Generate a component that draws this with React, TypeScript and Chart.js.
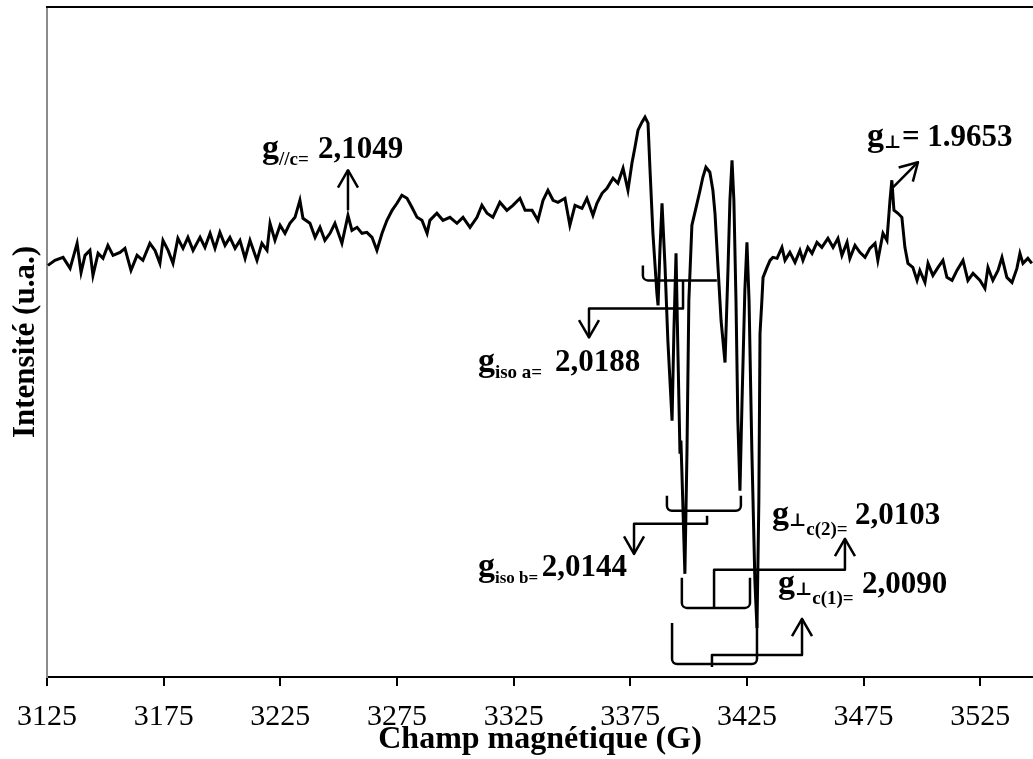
import React, { useEffect, useRef } from 'react';
import { Chart, registerables } from 'chart.js';

Chart.register(...registerables);

// ---- Data ----
const fieldG = [
  3125.4, 3128.4, 3131.9, 3134.9, 3137.9, 3139.6, 3141.3, 3143.4, 3144.7, 3146.9,
  3149.0, 3151.1, 3153.3, 3156.3, 3158.4, 3161.0, 3163.6, 3166.1, 3169.1, 3171.3,
  3173.4, 3174.7, 3176.9, 3179.0, 3181.1, 3183.3, 3185.4, 3187.6, 3190.6, 3192.7,
  3194.9, 3197.0, 3199.1, 3201.3, 3203.4, 3205.6, 3207.7, 3209.9, 3212.0, 3215.0,
  3217.1, 3219.3, 3220.6, 3222.7, 3224.9, 3227.0, 3229.1, 3231.3, 3233.4, 3234.7,
  3237.7, 3239.9, 3242.0, 3244.1, 3246.3, 3248.4, 3251.4, 3254.0, 3255.7, 3257.9,
  3260.0, 3262.1, 3264.3, 3266.4, 3268.6, 3270.7, 3272.9, 3275.0, 3277.1, 3279.3,
  3281.4, 3283.6, 3285.7, 3287.9, 3289.1, 3292.1, 3294.7, 3297.7, 3300.7, 3303.3,
  3306.3, 3309.3, 3311.4, 3313.6, 3316.1, 3319.1, 3322.1, 3324.7, 3327.7, 3329.9,
  3332.9, 3335.4, 3337.6, 3339.7, 3341.9, 3344.0, 3347.0, 3349.1, 3351.3, 3354.3,
  3356.4, 3359.0, 3360.7, 3362.9, 3365.0, 3367.6, 3369.7, 3371.9, 3374.0, 3375.7,
  3377.0, 3378.3, 3380.0, 3381.3, 3382.6, 3383.4, 3384.7, 3386.4, 3386.9, 3387.7,
  3388.6, 3389.9, 3391.1, 3392.9, 3393.7, 3394.6, 3395.4, 3396.3, 3396.7, 3397.1,
  3398.4, 3399.3, 3400.1, 3401.4, 3403.6, 3404.9, 3406.1, 3407.4, 3409.1, 3410.4,
  3411.3, 3412.6, 3413.9, 3415.6, 3416.9, 3417.7, 3418.6, 3419.4, 3420.3, 3421.1,
  3422.0, 3422.9, 3424.1, 3425.0, 3425.9, 3427.1, 3428.4, 3429.3, 3430.1, 3430.6,
  3431.4, 3431.9, 3433.6, 3434.9, 3436.1, 3437.9, 3440.0, 3441.3, 3443.4, 3445.6,
  3447.7, 3449.0, 3451.1, 3452.9, 3455.0, 3457.1, 3459.7, 3461.9, 3464.0, 3465.7,
  3467.9, 3469.1, 3471.3, 3473.4, 3475.6, 3477.7, 3479.9, 3481.1, 3483.3, 3485.0,
  3486.3, 3487.1, 3488.0, 3489.7, 3491.4, 3492.7, 3494.0, 3496.1, 3497.9, 3499.1,
  3501.3, 3502.6, 3504.7, 3506.9, 3509.0, 3510.7, 3512.9, 3515.0, 3517.6, 3519.7,
  3521.9, 3524.9, 3527.0, 3528.3, 3530.4, 3532.6, 3534.3, 3536.4, 3538.6, 3540.7,
  3542.0, 3543.3, 3545.4, 3547.1,
];

const intensity = [
  411, 416, 419, 408, 433, 404, 421, 426, 401, 423,
  418, 431, 421, 424, 428, 406, 421, 416, 433, 426,
  413, 436, 426, 413, 438, 428, 439, 426, 439, 429,
  443, 428, 444, 431, 439, 428, 436, 418, 436, 416,
  433, 426, 453, 436, 451, 443, 453, 459, 476, 458,
  453, 439, 449, 436, 443, 453, 433, 461, 446, 449,
  443, 444, 439, 426, 443, 456, 466, 473, 481, 478,
  469, 459, 456, 443, 456, 463, 456, 459, 453, 459,
  449, 459, 471, 463, 459, 474, 466, 471, 478, 466,
  466, 456, 476, 486, 476, 474, 478, 451, 471, 468,
  478, 461, 473, 483, 488, 498, 493, 508, 486, 513,
  529, 546, 554, 559, 553, 509, 443, 383, 371, 426,
  473, 409, 336, 256, 346, 423, 326, 223, 236, 206,
  103, 226, 376, 451, 473, 486, 499, 509, 504, 486,
  463, 409, 356, 314, 409, 476, 516, 476, 376, 256,
  186, 276, 386, 434, 376, 226, 96, 49, 176, 343,
  376, 399, 409, 416, 419, 418, 429, 416, 424, 414,
  426, 416, 429, 423, 434, 429, 438, 429, 438, 421,
  434, 418, 431, 424, 419, 428, 433, 416, 443, 436,
  476, 496, 466, 463, 459, 429, 413, 409, 396, 406,
  394, 413, 401, 409, 416, 399, 396, 406, 416, 396,
  403, 396, 388, 409, 396, 406, 419, 399, 394, 408,
  423, 413, 418, 413,
];

const tickValues = [3125, 3175, 3225, 3275, 3325, 3375, 3425, 3475, 3525];
const xRange = [3125, 3547.6];
const yRange = [0, 669];

const xTitle = 'Champ magnétique (G)';
const yTitle = 'Intensité (u.a.)';

// Bracket outlines (field G, intensity)
const brackets = [
  [[3380.4, 411], [3380.4, 396], [3412.1, 396]],
  [[3390.7, 181], [3390.7, 166], [3422.4, 166], [3422.4, 181]],
  [[3397.1, 99], [3397.1, 69], [3426.3, 69], [3426.3, 99]],
  [[3392.9, 54], [3392.9, 13], [3429.3, 13], [3429.3, 54]],
];

// Leader lines ending with an arrow head (field G, intensity)
const leaders = [
  [[3397.6, 396], [3397.6, 368], [3357.3, 368], [3357.3, 339]],
  [[3407.9, 161], [3407.9, 153], [3376.6, 153], [3376.6, 123]],
  [[3410.9, 69], [3410.9, 107], [3467.0, 107], [3467.0, 138]],
  [[3410.0, 10], [3410.0, 22], [3448.6, 22], [3448.6, 58]],
  [[3254.0, 466], [3254.0, 506]],
  [[3487.6, 489], [3498.3, 514]],
];

// Labels: anchor of "g" (field, intensity) and field where the value starts
const labelAnchors = [
  [3217.1, 518, 3241.1],
  [3476.4, 530, 3491.4],
  [3309.7, 306, 3342.7],
  [3309.7, 101, 3337.1],
  [3435.7, 153, 3471.3],
  [3438.3, 84, 3474.3],
];
const labelSubs = [
  ['//c='],
  ['⊥'],
  ['iso a='],
  ['iso b='],
  ['⊥', 'c(2)='],
  ['⊥', 'c(1)='],
];
const labelValues = ['2,1049', '= 1.9653', '2,0188', '2,0144', '2,0103', '2,0090'];

const SERIF = "'Liberation Serif', 'Times New Roman', 'DejaVu Serif', serif";
const SUB_SIZES = [19, 18, 19, 17, 19, 19];

const annotationPlugin = {
  id: 'eprAnnotations',
  afterDraw(chart: any) {
    const { ctx, chartArea } = chart;
    const xs = chart.scales.x;
    const ys = chart.scales.y;
    const P = (p: number[]) => [xs.getPixelForValue(p[0]), ys.getPixelForValue(p[1])];
    ctx.save();
    ctx.strokeStyle = '#000';
    ctx.fillStyle = '#000';

    // top frame line
    ctx.lineWidth = 2;
    ctx.beginPath();
    ctx.moveTo(chartArea.left - 1, chartArea.top);
    ctx.lineTo(chartArea.right, chartArea.top);
    ctx.stroke();

    ctx.lineWidth = 2.5;
    ctx.lineJoin = 'round';
    ctx.lineCap = 'butt';

    // brackets with rounded corners
    for (const b of brackets) {
      const pts = b.map(P);
      ctx.beginPath();
      ctx.moveTo(pts[0][0], pts[0][1]);
      for (let i = 1; i < pts.length - 1; i++) {
        ctx.arcTo(pts[i][0], pts[i][1], pts[i + 1][0], pts[i + 1][1], 5);
      }
      const last = pts[pts.length - 1];
      ctx.lineTo(last[0], last[1]);
      ctx.stroke();
    }

    // leader lines with open arrow heads
    for (const l of leaders) {
      const pts = l.map(P);
      ctx.beginPath();
      ctx.moveTo(pts[0][0], pts[0][1]);
      for (let i = 1; i < pts.length; i++) ctx.lineTo(pts[i][0], pts[i][1]);
      ctx.stroke();
      const tip = pts[pts.length - 1];
      const prev = pts[pts.length - 2];
      const a = Math.atan2(tip[1] - prev[1], tip[0] - prev[0]);
      const L = 20;
      const th = (30 * Math.PI) / 180;
      ctx.beginPath();
      ctx.moveTo(tip[0] - L * Math.cos(a - th), tip[1] - L * Math.sin(a - th));
      ctx.lineTo(tip[0], tip[1]);
      ctx.lineTo(tip[0] - L * Math.cos(a + th), tip[1] - L * Math.sin(a + th));
      ctx.stroke();
    }

    // labels
    ctx.textAlign = 'left';
    ctx.textBaseline = 'alphabetic';
    labelAnchors.forEach((anc, i) => {
      const [gx, by] = P([anc[0], anc[1]]);
      let cx = gx;
      ctx.font = `bold 34px ${SERIF}`;
      ctx.fillText('g', cx, by);
      cx += ctx.measureText('g').width;
      const subs = labelSubs[i];
      subs.forEach((s) => {
        const perp = s === '⊥';
        ctx.font = `bold ${perp ? 18 : SUB_SIZES[i]}px ${SERIF}`;
        const dy = perp ? 2 : subs.length > 1 ? 11 : 7;
        ctx.fillText(s, cx, by + dy);
        cx += ctx.measureText(s).width;
      });
      ctx.font = `bold 31px ${SERIF}`;
      ctx.fillText(labelValues[i], xs.getPixelForValue(anc[2]), by);
    });
    ctx.restore();
  },
};

export default function App() {
  const canvasRef = useRef<HTMLCanvasElement | null>(null);

  useEffect(() => {
    const canvas = canvasRef.current;
    if (!canvas) return;
    const chart = new Chart(canvas, {
      type: 'line',
      data: {
        datasets: [
          {
            data: fieldG.map((g, i) => ({ x: g, y: intensity[i] })),
            borderColor: '#000',
            borderWidth: 3,
            pointRadius: 0,
            tension: 0,
            fill: false,
          },
        ],
      },
      options: {
        animation: false,
        responsive: false,
        maintainAspectRatio: false,
        devicePixelRatio: 1,
        layout: { padding: { top: 7, right: 0, bottom: 0, left: 0 } },
        plugins: {
          legend: { display: false },
          tooltip: { enabled: false },
        },
        scales: {
          x: {
            type: 'linear',
            min: xRange[0],
            max: xRange[1],
            afterBuildTicks: (axis: any) => {
              axis.ticks = tickValues.map((v) => ({ value: v }));
            },
            afterFit: (s: any) => {
              s.height = 82;
            },
            grid: {
              display: true,
              drawOnChartArea: false,
              drawTicks: true,
              tickLength: 9,
              color: '#000',
              lineWidth: 2,
            },
            border: { display: true, color: '#000', width: 2 },
            ticks: {
              autoSkip: false,
              maxRotation: 0,
              padding: 13,
              color: '#000',
              font: { family: SERIF, size: 30 },
              callback: (v: any) => String(v),
            },
            title: {
              display: true,
              text: xTitle,
              color: '#000',
              font: { family: SERIF, size: 32, weight: 'bold', lineHeight: 1 },
              padding: { top: 0, bottom: 3 },
            },
          },
          y: {
            type: 'linear',
            min: yRange[0],
            max: yRange[1],
            afterFit: (s: any) => {
              s.width = 47;
            },
            grid: { display: false },
            border: { display: true, color: '#8c8c8c', width: 2 },
            ticks: { display: false },
            title: {
              display: true,
              text: yTitle,
              color: '#000',
              font: { family: SERIF, size: 31, weight: 'bold' },
              padding: { top: 7, bottom: 0 },
            },
          },
        },
      },
      plugins: [annotationPlugin],
    } as any);
    return () => chart.destroy();
  }, []);

  return (
    <div
      style={{
        position: 'fixed',
        left: 0,
        top: 0,
        width: 1033,
        height: 759,
        background: '#fff',
      }}
    >
      <canvas ref={canvasRef} width={1033} height={759} style={{ display: 'block' }} />
    </div>
  );
}
